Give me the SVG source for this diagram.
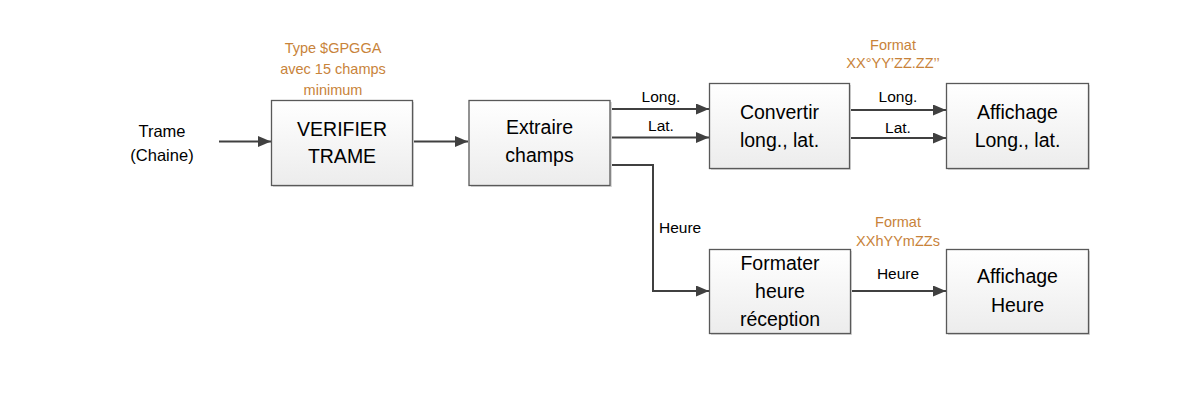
<svg xmlns="http://www.w3.org/2000/svg" width="1193" height="405" viewBox="0 0 1193 405">
<style>
.box{fill:url(#g);stroke:#595959;stroke-width:1.3}
.sh{fill:#d9d9d9}
.t{font-family:"Liberation Sans",Arial,sans-serif;font-size:19.5px;fill:#000;text-anchor:middle}
.s{font-family:"Liberation Sans",Arial,sans-serif;font-size:15.5px;fill:#000;text-anchor:middle}
.o{font-family:"Liberation Sans",Arial,sans-serif;font-size:14.5px;fill:#C8833A;text-anchor:middle}
.c{fill:none;stroke:#404040;stroke-width:2}
</style>
<defs>
<linearGradient id="g" x1="0" y1="0" x2="0" y2="1">
<stop offset="0" stop-color="#ffffff"/>
<stop offset="1" stop-color="#ececec"/>
</linearGradient>
<marker id="a" viewBox="0 0 13 11" refX="13" refY="5.5" markerWidth="13" markerHeight="11" markerUnits="userSpaceOnUse" orient="auto">
<path d="M0,0 L13,5.5 L0,11 z" fill="#404040"/>
</marker>
</defs>
<rect width="1193" height="405" fill="#fff"/>
<g id="connectors">
<path class="c" d="M219,141.5 H271" marker-end="url(#a)"/>
<path class="c" d="M412,141.5 H468" marker-end="url(#a)"/>
<path class="c" d="M610,109 H709" marker-end="url(#a)"/>
<path class="c" d="M610,137.5 H709" marker-end="url(#a)"/>
<path class="c" d="M610,165 H653 V291 H709" marker-end="url(#a)"/>
<path class="c" d="M849,110 H946" marker-end="url(#a)"/>
<path class="c" d="M849,138 H946" marker-end="url(#a)"/>
<path class="c" d="M850,291 H946" marker-end="url(#a)"/>
<text class="s" x="661" y="102">Long.</text>
<text class="s" x="661" y="131">Lat.</text>
<text class="s" x="898" y="102">Long.</text>
<text class="s" x="898" y="133">Lat.</text>
<text class="s" x="659" y="233" style="text-anchor:start">Heure</text>
<text class="s" x="898" y="279">Heure</text>
</g>
<g id="input">
<text class="s" x="162" y="136.5" style="font-size:16.5px">Trame</text>
<text class="s" x="162" y="161" style="font-size:16.5px">(Chaine)</text>
</g>
<g id="note-verifier">
<text class="o" x="333" y="53">Type $GPGGA</text>
<text class="o" x="333" y="74">avec 15 champs</text>
<text class="o" x="333" y="95">minimum</text>
</g>
<g id="note-format-ll">
<text class="o" x="893" y="50">Format</text>
<text class="o" x="893" y="68">XX°YY’ZZ.ZZ’’</text>
</g>
<g id="note-format-h">
<text class="o" x="898" y="227">Format</text>
<text class="o" x="898" y="246">XXhYYmZZs</text>
</g>
<g id="verifier">
<rect class="sh" x="273" y="102" width="141" height="85"/>
<rect class="box" x="271.5" y="100.5" width="141" height="85"/>
<text class="t" x="342" y="136">VERIFIER</text>
<text class="t" x="342" y="163">TRAME</text>
</g>
<g id="extraire">
<rect class="sh" x="471" y="102" width="141" height="85"/>
<rect class="box" x="469" y="100.5" width="141" height="85"/>
<text class="t" x="539.5" y="134">Extraire</text>
<text class="t" x="539.5" y="162">champs</text>
</g>
<g id="convertir">
<rect class="sh" x="711" y="85" width="140" height="85"/>
<rect class="box" x="709.5" y="83.5" width="140" height="85"/>
<text class="t" x="779.5" y="119">Convertir</text>
<text class="t" x="779.5" y="147">long., lat.</text>
</g>
<g id="affichage-ll">
<rect class="sh" x="948" y="85" width="142" height="85"/>
<rect class="box" x="946.5" y="83.5" width="142" height="85"/>
<text class="t" x="1017.5" y="119">Affichage</text>
<text class="t" x="1017.5" y="147">Long., lat.</text>
</g>
<g id="formater">
<rect class="sh" x="711" y="251" width="141" height="84"/>
<rect class="box" x="709.5" y="249.5" width="141" height="84"/>
<text class="t" x="780" y="270">Formater</text>
<text class="t" x="780" y="298">heure</text>
<text class="t" x="780" y="326">réception</text>
</g>
<g id="affichage-h">
<rect class="sh" x="948" y="251" width="142" height="84"/>
<rect class="box" x="946.5" y="249.5" width="142" height="84"/>
<text class="t" x="1017.5" y="283">Affichage</text>
<text class="t" x="1017.5" y="312">Heure</text>
</g>
</svg>
